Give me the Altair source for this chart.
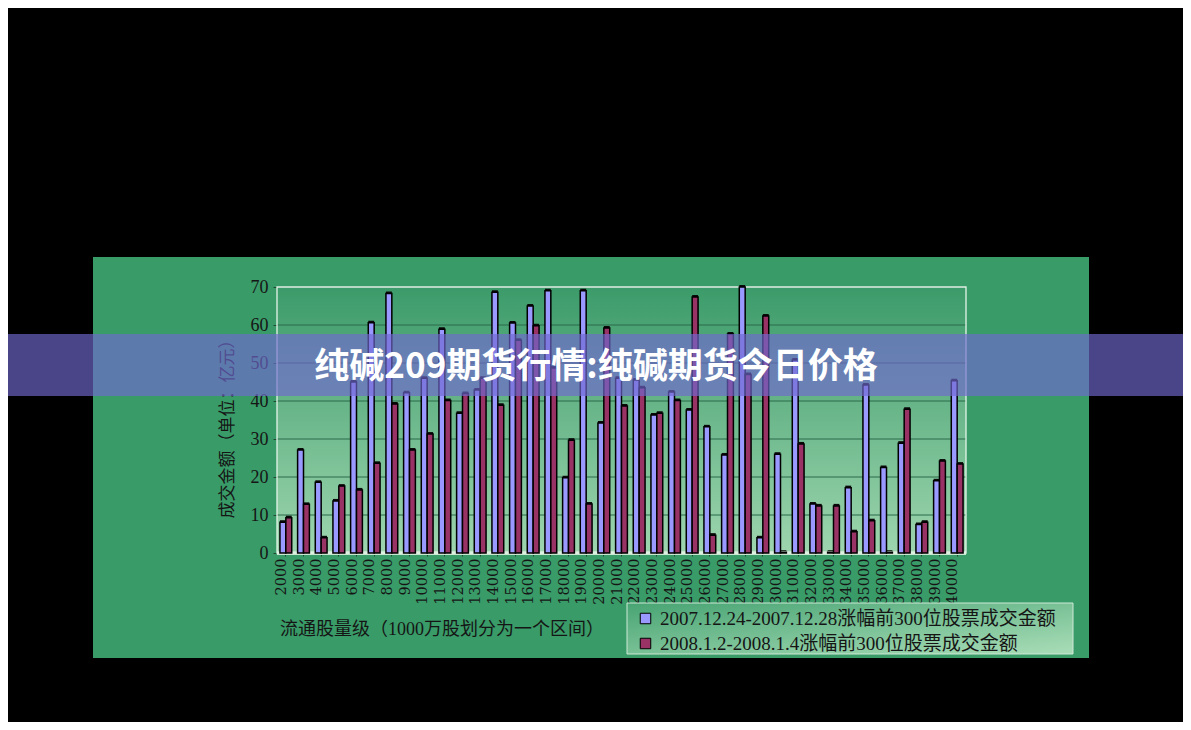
import altair as alt
import pandas as pd

categories = ["2000", "3000", "4000", "5000", "6000", "7000", "8000", "9000", "10000",
              "11000", "12000", "13000", "14000", "15000", "16000", "17000", "18000",
              "19000", "20000", "21000", "22000", "23000", "24000", "25000", "26000",
              "27000", "28000", "29000", "30000", "31000", "32000", "33000", "34000",
              "35000", "36000", "37000", "38000", "39000", "40000"]
series_names = ["2007.12.24-2007.12.28涨幅前300位股票成交金额",
                "2008.1.2-2008.1.4涨幅前300位股票成交金额"]
values_2007 = [8.1, 27.1, 18.6, 13.7, 45.0, 60.6, 68.3, 42.2, 46.0, 58.9,
               36.8, 42.9, 68.6, 60.5, 65.0, 69.0, 19.8, 69.0, 34.2, 46.0,
               45.5, 36.3, 42.4, 37.6, 33.2, 25.8, 70.0, 4.0, 26.0, 50.8,
               12.9, 0.2, 17.2, 44.2, 22.5, 28.9, 7.5, 19.0, 45.3]
values_2008 = [9.3, 12.8, 4.0, 17.6, 16.6, 23.6, 39.2, 27.1, 31.3, 40.1,
               42.0, 46.0, 38.9, 56.0, 59.8, 48.7, 29.7, 12.9, 59.2, 38.7,
               43.5, 36.8, 40.1, 67.4, 4.7, 57.6, 47.0, 62.4, 0.2, 28.7,
               12.4, 12.4, 5.6, 8.5, 0.2, 37.8, 8.1, 24.2, 23.4]
y_ticks = [0, 10, 20, 30, 40, 50, 60, 70]
grid_values = [10, 20, 30, 40, 50, 60, 70]
series_colors = ["#9999ff", "#993366"]

title_text = "纯碱209期货行情:纯碱期货今日价格"
x_title = "流通股量级（1000万股划分为一个区间）"
y_title = "成交金额（单位：亿元）"

rows = []
for c, a, b in zip(categories, values_2007, values_2008):
    rows.append({"cat": c, "series": series_names[0], "v": a})
    rows.append({"cat": c, "series": series_names[1], "v": b})
df = pd.DataFrame(rows)
one = pd.DataFrame({"k": [0]})
grid_df = pd.DataFrame({"v": grid_values})

W, H = 689, 266
SERIF = "Liberation Serif, Noto Sans CJK SC"

y_scale = alt.Scale(domain=[0, 70], nice=False, zero=True)
x_scale = alt.Scale(paddingInner=0, paddingOuter=0)
xoff_scale = alt.Scale(paddingInner=0, paddingOuter=0.5)

x_axis = alt.Axis(title=None, labelAngle=270, labelAlign="right",
                  labelBaseline="middle", labelFont="DejaVu Serif", labelFontSize=14.5,
                  labelColor="#151515", tickSize=3, tickColor="#1d4a33",
                  domain=False, grid=False, labelPadding=2, labelOffset=-4,
                  zindex=0)
y_axis = alt.Axis(title=None, values=y_ticks, labelFont=SERIF, labelFontSize=18,
                  labelColor="#151515", tickSize=4, tickColor="#1d4a33",
                  domain=False, grid=False, labelPadding=5, zindex=0)


def deco_rect(x, x2, y, y2, **kw):
    return alt.Chart(one).mark_rect(**kw).encode(
        x=alt.value(x), x2=alt.value(x2), y=alt.value(y), y2=alt.value(y2))


# black surroundings of the green panel
frames = [
    deco_rect(-300, 950, -300, -30, color="#000000"),
    deco_rect(-300, 950, 371, 460, color="#000000"),
    deco_rect(-300, -184, -30, 371, color="#000000"),
    deco_rect(812, 950, -30, 371, color="#000000"),
]

plot_bg = deco_rect(0, W, 0, H, color=alt.Gradient(
    gradient="linear", x1=0, x2=0, y1=0, y2=1,
    stops=[alt.GradientStop(color="#3c9b6a", offset=0),
           alt.GradientStop(color="#9dd5ae", offset=1)]))

grid = alt.Chart(grid_df).mark_rule(color="#2b6b4a", strokeWidth=1).encode(
    x=alt.value(0), x2=alt.value(W),
    y=alt.Y("v:Q", scale=y_scale, axis=y_axis))

floor = deco_rect(0, W, H - 2, H + 2, color="#c9e6d0")
border = deco_rect(0, W, 0, H, fill=None, stroke="#e4f5e8", strokeWidth=1.3)

shadow = alt.Chart(df).mark_bar(color="#0a0a0a", xOffset=0, yOffset=-2).encode(
    x=alt.X("cat:N", sort=categories, scale=x_scale, axis=x_axis),
    xOffset=alt.XOffset("series:N", sort=series_names, scale=xoff_scale),
    y=alt.Y("v:Q", scale=y_scale, axis=y_axis),
)

bars = alt.Chart(df).mark_bar(stroke="#000000", strokeWidth=1.5, xOffset=-2).encode(
    x=alt.X("cat:N", sort=categories, scale=x_scale, axis=x_axis),
    xOffset=alt.XOffset("series:N", sort=series_names, scale=xoff_scale),
    y=alt.Y("v:Q", scale=y_scale, axis=y_axis),
    color=alt.Color("series:N", sort=series_names,
                    scale=alt.Scale(domain=series_names, range=series_colors),
                    legend=alt.Legend(title=None, orient="none", legendX=359, legendY=322,
                                      symbolType="square", symbolSize=110,
                                      symbolStrokeColor="#000000", symbolStrokeWidth=1,
                                      labelFont=SERIF, labelFontSize=19,
                                      labelColor="#151515", labelLimit=700,
                                      rowPadding=5, labelOffset=5, padding=0)),
)

x_title_mark = alt.Chart(one).mark_text(
    text=x_title, align="left", baseline="middle", font=SERIF, fontSize=18,
    color="#151515").encode(x=alt.value(3), y=alt.value(343))

y_title_mark = alt.Chart(one).mark_text(
    text=y_title, align="center", baseline="middle", font=SERIF, fontSize=17,
    angle=270, color="#151515").encode(x=alt.value(-49), y=alt.value(138))

legend_bg = deco_rect(350, 796, 316, 367, stroke="#cfe9d6", strokeWidth=1,
                      color=alt.Gradient(
                          gradient="linear", x1=0, x2=1, y1=0, y2=1,
                          stops=[alt.GradientStop(color="#48a473", offset=0),
                                 alt.GradientStop(color="#a9ddb8", offset=1)]))

banner = deco_rect(-300, 950, 47, 109, color="#7069d0", opacity=0.66)

banner_text = alt.Chart(one).mark_text(
    text=title_text, align="center", baseline="middle",
    font="Noto Sans CJK SC", fontSize=35, fontWeight="bold",
    color="#ffffff").encode(x=alt.value(319), y=alt.value(80))

chart = alt.layer(
    *frames, plot_bg, grid, floor, border, shadow, bars,
    x_title_mark, y_title_mark, legend_bg, banner, banner_text
).properties(
    width=W, height=H,
    padding={"left": 269, "top": 279, "right": 217, "bottom": 169},
    autosize=alt.AutoSizeParams(type="none"),
).configure(background="#399b68").configure_view(stroke=None)

chart.save("out.html", embed_options={"renderer": "svg", "actions": False})
